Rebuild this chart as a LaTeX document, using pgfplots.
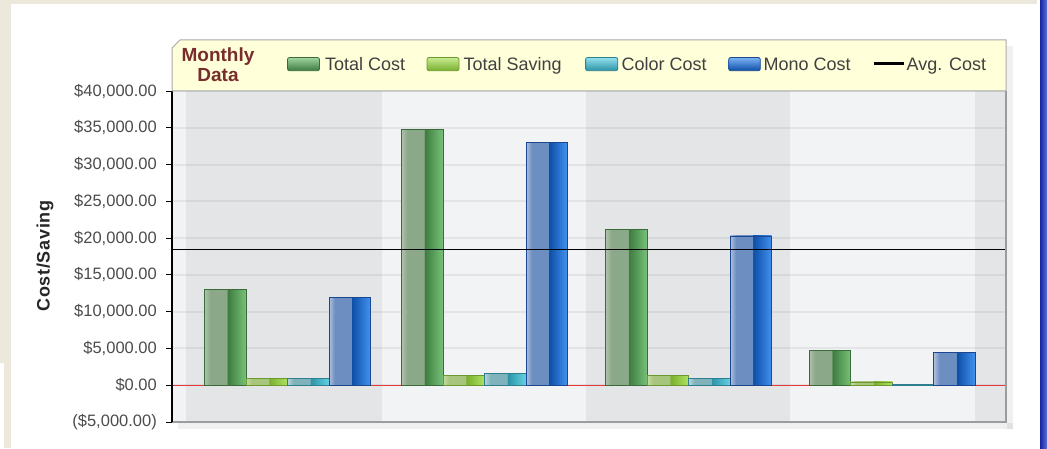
\documentclass[border=0pt]{standalone}
\usepackage{pgfplots}
\pgfplotsset{compat=1.18}
\usepackage{fontspec}
\setmainfont{Liberation Sans}
\newfontfamily\labfont[LetterSpace=4]{Liberation Sans}

\definecolor{gA}{HTML}{AFC2AC}\definecolor{gB}{HTML}{8BA888}\definecolor{gC}{HTML}{3C7A3E}\definecolor{gD}{HTML}{78C278}\definecolor{gE}{HTML}{3A6C3B}
\definecolor{sA}{HTML}{C8DCA2}\definecolor{sB}{HTML}{A7C57C}\definecolor{sC}{HTML}{78AE2C}\definecolor{sD}{HTML}{B0E262}\definecolor{sE}{HTML}{6C992E}
\definecolor{tA}{HTML}{B6D4DA}\definecolor{tB}{HTML}{80B2BC}\definecolor{tC}{HTML}{2A93A6}\definecolor{tD}{HTML}{64D2E4}\definecolor{tE}{HTML}{2D7F8F}
\definecolor{bA}{HTML}{B0C1DF}\definecolor{bB}{HTML}{6C8EC0}\definecolor{bC}{HTML}{0C4EA6}\definecolor{bD}{HTML}{4292F0}\definecolor{bE}{HTML}{1B4690}
\definecolor{bgLight}{HTML}{F2F3F5}
\definecolor{bgDark}{HTML}{E4E5E7}
\definecolor{frameGray}{HTML}{9C9C9C}
\definecolor{zeroRed}{HTML}{E8383A}
\definecolor{legYellow}{HTML}{FFFFDA}
\definecolor{legBorder}{HTML}{A8A8A8}
\definecolor{tickGray}{HTML}{4C4C4C}
\definecolor{legText}{HTML}{404040}
\definecolor{titleRed}{HTML}{782C2C}
\definecolor{beige}{HTML}{ECE9DC}
\definecolor{edgeBlue}{HTML}{1A2FC8}

\pgfdeclarehorizontalshading{greenbar}{100bp}{color(0bp)=(gA); color(25bp)=(gA); color(32bp)=(gB); color(52bp)=(gB); color(52.5bp)=(gC); color(75bp)=(gD); color(100bp)=(gD)}
\pgfdeclarehorizontalshading{savebar}{100bp}{color(0bp)=(sA); color(25bp)=(sA); color(32bp)=(sB); color(52bp)=(sB); color(52.5bp)=(sC); color(75bp)=(sD); color(100bp)=(sD)}
\pgfdeclarehorizontalshading{tealbar}{100bp}{color(0bp)=(tA); color(25bp)=(tA); color(32bp)=(tB); color(52bp)=(tB); color(52.5bp)=(tC); color(75bp)=(tD); color(100bp)=(tD)}
\pgfdeclarehorizontalshading{bluebar}{100bp}{color(0bp)=(bA); color(25bp)=(bA); color(32bp)=(bB); color(52bp)=(bB); color(52.5bp)=(bC); color(75bp)=(bD); color(100bp)=(bD)}

\pgfplotsset{
  totalbar/.style={ybar, bar width=41.5, bar shift=-62.25, shade, shading=greenbar, draw=gE, line width=0.8pt, forget plot},
  savebar/.style={ybar, bar width=41.5, bar shift=-20.75, shade, shading=savebar, draw=sE, line width=0.8pt, forget plot},
  colorbar/.style={ybar, bar width=41.5, bar shift=20.75, shade, shading=tealbar, draw=tE, line width=0.8pt, forget plot},
  monobar/.style={ybar, bar width=41.5, bar shift=62.25, shade, shading=bluebar, draw=bE, line width=0.8pt, forget plot},
}

\begin{document}
\begin{tikzpicture}[x=1pt,y=1pt]
% canvas
\fill[white] (0,0) rectangle (1047,448);
\path[use as bounding box] (0,0) rectangle (1047,448);
\fill[beige] (0,444) rectangle (1037,448);
\fill[beige] (3.5,0) rectangle (10.5,444);
\fill[beige] (0,88) rectangle (3.5,448);
\fill[beige] (0,85) rectangle (10.5,90);
\shade[left color=edgeBlue!80!black, right color=edgeBlue!70!white] (1040,0) rectangle (1047,448);

% shadows
\fill[black, opacity=0.06] (1007,19) rectangle (1013,402);
\fill[black, opacity=0.06] (178,19) rectangle (1013,25);

% plot background stripes
\fill[bgLight] (172,26) rectangle (1006,357);
\fill[bgDark] (186,26) rectangle (382,357);
\fill[bgDark] (586,26) rectangle (790,357);
\fill[bgDark] (975,26) rectangle (1006,357);

\begin{axis}[
  at={(172pt,26pt)}, anchor=south west,
  width=833pt, height=331pt, scale only axis,
  xmin=172, xmax=1005, ymin=-5000, ymax=40000,
  axis line style={draw=none},
  xtick=\empty,
  scaled y ticks=false,
  ytick={-5000,0,5000,10000,15000,20000,25000,30000,35000,40000},
  yticklabels={{(\$5,000.00)},{\$0.00},{\$5,000.00},{\$10,000.00},{\$15,000.00},{\$20,000.00},{\$25,000.00},{\$30,000.00},{\$35,000.00},{\$40,000.00}},
  ytick pos=left,
  tick align=outside, major tick length=6pt,
  ytick style={black, line width=0.8pt},
  ymajorgrids, grid style={black, opacity=0.06, line width=2pt},
  yticklabel style={font=\fontsize{16.5}{18}\selectfont, text=tickGray, inner sep=0pt, xshift=-9pt},
]
\draw[zeroRed, line width=1pt] (axis cs:172,0) -- (axis cs:1005,0);
% Total Cost
\addplot[totalbar] coordinates {(287.5,13000)};
\addplot[totalbar] coordinates {(484.5,34800)};
\addplot[totalbar] coordinates {(688.7,21200)};
\addplot[totalbar] coordinates {(892.2,4700)};
% Total Saving
\addplot[savebar] coordinates {(287.5,900)};
\addplot[savebar] coordinates {(484.5,1300)};
\addplot[savebar] coordinates {(688.7,1350)};
\addplot[savebar] coordinates {(892.2,450)};
% Color Cost
\addplot[colorbar] coordinates {(287.5,900)};
\addplot[colorbar] coordinates {(484.5,1600)};
\addplot[colorbar] coordinates {(688.7,900)};
\addplot[colorbar] coordinates {(892.2,60)};
% Mono Cost
\addplot[monobar] coordinates {(287.5,11900)};
\addplot[monobar] coordinates {(484.5,33000)};
\addplot[monobar] coordinates {(688.7,20300)};
\addplot[monobar] coordinates {(892.2,4500)};
% Avg. Cost
\addplot[sharp plot, black, line width=1.5pt, forget plot]
  coordinates {(172,18460) (1005,18460)};
\end{axis}

% frame
\draw[frameGray, line width=1.5pt] (172,26) -- (1006,26) -- (1006,357);
\draw[black, line width=1.2pt] (172,26) -- (172,357);

% y label
\node[rotate=90, font=\labfont\bfseries\fontsize{18}{20}\selectfont, text=black!85] at (45,192) {Cost/Saving};

% legend box
\draw[fill=legYellow, draw=legBorder, line width=1pt] (172,357) -- (172,400) -- (180,408) -- (1006,408) -- (1006,357) -- cycle;
\node[anchor=base, font=\bfseries\fontsize{19}{21}\selectfont, text=titleRed, inner sep=0pt] at (218,386.3) {Monthly};
\node[anchor=base, font=\bfseries\fontsize{19}{21}\selectfont, text=titleRed, inner sep=0pt] at (218,366.3) {Data};

\draw[draw=gE, line width=0.8pt, rounded corners=2pt, top color=gD!70!white, bottom color=gC] (287.5,377.3) rectangle (319.5,390.5);
\node[anchor=base west, inner sep=0pt, font=\fontsize{18}{20}\selectfont, text=legText] at (325,377.5) {Total Cost};
\draw[draw=sE, line width=0.8pt, rounded corners=2pt, top color=sD!70!white, bottom color=sC] (427,377.3) rectangle (459,390.5);
\node[anchor=base west, inner sep=0pt, font=\fontsize{18}{20}\selectfont, text=legText] at (463.5,377.5) {Total Saving};
\draw[draw=tE, line width=0.8pt, rounded corners=2pt, top color=tD!70!white, bottom color=tC] (585.6,377.3) rectangle (617.8,390.5);
\node[anchor=base west, inner sep=0pt, font=\fontsize{18}{20}\selectfont, text=legText] at (621.5,377.5) {Color Cost};
\draw[draw=bE, line width=0.8pt, rounded corners=2pt, top color=bD!70!white, bottom color=bC] (728.7,377.3) rectangle (760.3,390.5);
\node[anchor=base west, inner sep=0pt, font=\fontsize{18}{20}\selectfont, text=legText] at (763.5,377.5) {Mono Cost};
\draw[black, line width=3pt] (874.4,384) -- (903.8,384);
\node[anchor=base west, inner sep=0pt, font=\fontsize{18}{20}\selectfont, text=legText] at (906.5,377.5) {Avg. Cost};
\end{tikzpicture}
\end{document}
